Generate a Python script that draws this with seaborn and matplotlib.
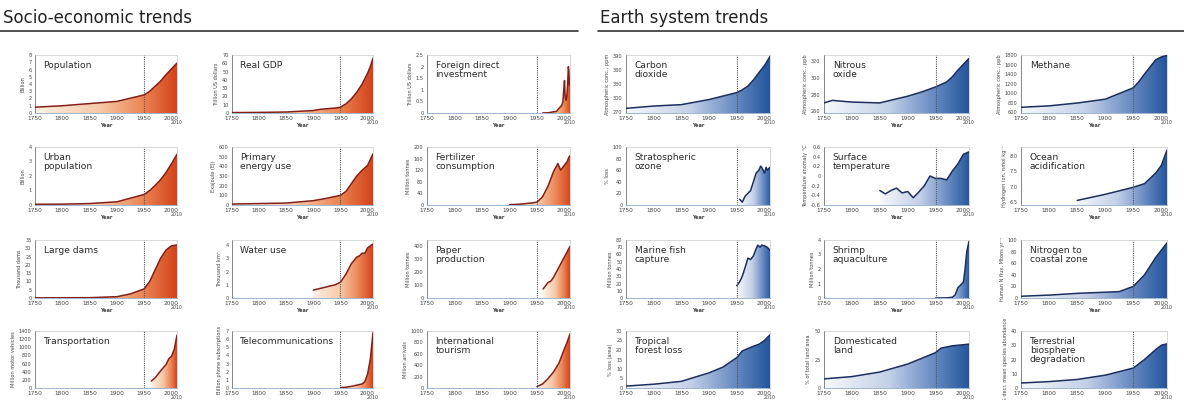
import numpy as np
import pandas as pd
import matplotlib.pyplot as plt
import seaborn as sns
from matplotlib.colors import LinearSegmentedColormap
from matplotlib.patches import Polygon

sns.set_style("white")
plt.rcParams["font.family"] = ["DejaVu Sans"]

# ---- data ----
pop_years = [1750, 1800, 1850, 1900, 1950, 1960, 1970, 1980, 1990, 2000, 2010]
pop_vals = [0.8, 1.0, 1.3, 1.6, 2.5, 3.0, 3.7, 4.4, 5.3, 6.1, 6.9]

gdp_years = [1750, 1800, 1850, 1900, 1913, 1940, 1950, 1960, 1970, 1980, 1990, 2000, 2005, 2010]
gdp_vals = [0.5, 0.7, 1.2, 3.0, 4.5, 6.0, 7.0, 11, 17, 25, 35, 48, 56, 66]

fdi_years = [1960, 1970, 1980, 1985, 1990, 1995, 1997, 1999, 2000, 2001, 2002, 2003, 2004, 2005, 2006, 2007, 2008, 2009, 2010]
fdi_vals = [0.0, 0.01, 0.05, 0.06, 0.2, 0.33, 0.47, 1.1, 1.4, 0.8, 0.6, 0.55, 0.7, 0.95, 1.4, 2.0, 1.8, 1.2, 1.25]

urban_years = [1750, 1800, 1850, 1900, 1950, 1960, 1970, 1980, 1990, 2000, 2010]
urban_vals = [0.05, 0.06, 0.1, 0.22, 0.73, 1.0, 1.35, 1.75, 2.25, 2.85, 3.5]

energy_years = [1750, 1800, 1850, 1900, 1925, 1950, 1960, 1970, 1980, 1990, 2000, 2010]
energy_vals = [10, 15, 20, 45, 70, 100, 140, 220, 300, 360, 410, 530]

fert_years = [1900, 1920, 1940, 1950, 1960, 1970, 1980, 1988, 1993, 2000, 2005, 2008, 2010]
fert_vals = [1, 3, 7, 10, 28, 65, 115, 143, 120, 138, 150, 165, 170]

dams_years = [1750, 1850, 1900, 1925, 1950, 1960, 1970, 1980, 1990, 2000, 2010]
dams_vals = [0.1, 0.2, 0.8, 2.5, 5.5, 10, 17, 24, 29, 31.5, 32]

water_years = [1900, 1920, 1940, 1950, 1960, 1970, 1980, 1985, 1990, 1995, 2000, 2010]
water_vals = [0.6, 0.8, 1.0, 1.2, 1.8, 2.6, 3.1, 3.2, 3.4, 3.4, 3.8, 4.1]

paper_years = [1961, 1970, 1975, 1980, 1990, 2000, 2010]
paper_vals = [70, 120, 130, 160, 240, 320, 400]

transport_years = [1963, 1970, 1980, 1985, 1990, 1995, 2000, 2005, 2010]
transport_vals = [170, 250, 420, 500, 580, 720, 780, 950, 1300]

telecom_years = [1950, 1960, 1970, 1980, 1990, 1995, 2000, 2005, 2010]
telecom_vals = [0.05, 0.1, 0.2, 0.35, 0.5, 0.8, 1.7, 3.5, 6.8]

tourism_years = [1950, 1960, 1970, 1980, 1990, 2000, 2005, 2010]
tourism_vals = [25, 70, 165, 280, 440, 690, 810, 950]

co2_years = [1750, 1800, 1850, 1900, 1950, 1960, 1970, 1980, 1990, 2000, 2010]
co2_vals = [277, 282, 285, 296, 311, 317, 325, 338, 354, 369, 389]

n2o_years = [1750, 1765, 1800, 1850, 1900, 1925, 1950, 1970, 1980, 1990, 2000, 2010]
n2o_vals = [270, 273, 271, 270, 278, 283, 289, 295, 301, 309, 316, 323]

ch4_years = [1750, 1800, 1850, 1900, 1950, 1960, 1970, 1980, 1990, 2000, 2010]
ch4_vals = [700, 730, 790, 870, 1110, 1240, 1400, 1550, 1700, 1760, 1790]

ozone_years = [1955, 1960, 1965, 1970, 1975, 1980, 1985, 1990, 1993, 1995, 2000, 2003, 2005, 2010]
ozone_vals = [10, 5, 15, 20, 25, 40, 55, 60, 67, 65, 55, 65, 60, 65]

temp_years = [1850, 1860, 1870, 1880, 1890, 1900, 1910, 1920, 1930, 1940, 1950, 1960, 1970, 1980, 1990, 2000, 2010]
temp_vals = [-0.3, -0.37, -0.3, -0.25, -0.35, -0.32, -0.45, -0.33, -0.2, 0.0, -0.05, -0.05, -0.08, 0.1, 0.25, 0.45, 0.5]

ocean_years = [1850, 1900, 1950, 1970, 1990, 2000, 2010]
ocean_vals = [6.55, 6.75, 6.98, 7.1, 7.45, 7.7, 8.2]

fish_years = [1950, 1955, 1960, 1965, 1970, 1975, 1980, 1985, 1988, 1992, 1995, 2000, 2005, 2010]
fish_vals = [17, 22, 30, 42, 55, 53, 58, 68, 73, 70, 73, 72, 70, 66]

shrimp_years = [1950, 1970, 1980, 1985, 1990, 1995, 2000, 2003, 2006, 2010]
shrimp_vals = [0.0, 0.01, 0.05, 0.2, 0.7, 0.9, 1.1, 2.0, 3.2, 3.9]

nitro_years = [1750, 1800, 1850, 1900, 1925, 1950, 1970, 1990, 2010]
nitro_vals = [3, 5, 8, 10, 11, 20, 40, 70, 95]

forest_years = [1750, 1800, 1850, 1900, 1925, 1950, 1960, 1980, 1990, 2000, 2010]
forest_vals = [1, 2, 3.5, 8, 11, 16, 19.5, 22, 23, 25, 28]

land_years = [1750, 1800, 1850, 1900, 1950, 1960, 1980, 2000, 2010]
land_vals = [8, 10, 14, 21, 31, 35, 37, 38, 38.5]

bio_years = [1750, 1800, 1850, 1900, 1950, 1960, 1970, 1990, 2000, 2010]
bio_vals = [3.5, 4.5, 6, 9, 14, 17, 20, 27, 30, 31]

socio = [
    ("Population", "Billion", pop_years, pop_vals, (0, 8), list(range(0, 9))),
    ("Real GDP", "Trillion US dollars", gdp_years, gdp_vals, (0, 70), list(range(0, 71, 10))),
    ("Foreign direct\ninvestment", "Trillion US dollars", fdi_years, fdi_vals, (0, 2.5), [0, 0.5, 1, 1.5, 2, 2.5]),
    ("Urban\npopulation", "Billion", urban_years, urban_vals, (0, 4), list(range(0, 5))),
    ("Primary\nenergy use", "Exajoule (EJ)", energy_years, energy_vals, (0, 600), list(range(0, 601, 100))),
    ("Fertilizer\nconsumption", "Million tonnes", fert_years, fert_vals, (0, 200), list(range(0, 201, 40))),
    ("Large dams", "Thousand dams", dams_years, dams_vals, (0, 35), list(range(0, 36, 5))),
    ("Water use", "Thousand km\u00b3", water_years, water_vals, (0, 4.4), list(range(0, 5))),
    ("Paper\nproduction", "Million tonnes", paper_years, paper_vals, (0, 450), list(range(0, 401, 100))),
    ("Transportation", "Million motor vehicles", transport_years, transport_vals, (0, 1400), list(range(0, 1401, 200))),
    ("Telecommunications", "Billion phone subscriptions", telecom_years, telecom_vals, (0, 7), list(range(0, 8))),
    ("International\ntourism", "Million arrivals", tourism_years, tourism_vals, (0, 1000), list(range(0, 1001, 200))),
]

earth = [
    ("Carbon\ndioxide", "Atmospheric conc., ppm", co2_years, co2_vals, (267, 392), list(range(270, 391, 30))),
    ("Nitrous\noxide", "Atmospheric conc., ppb", n2o_years, n2o_vals, (258, 327), [260, 280, 300, 320]),
    ("Methane", "Atmospheric conc., ppb", ch4_years, ch4_vals, (580, 1800), list(range(600, 1801, 200))),
    ("Stratospheric\nozone", "% loss", ozone_years, ozone_vals, (0, 100), list(range(0, 101, 20))),
    ("Surface\ntemperature", "Temperature anomaly \u00b0C", temp_years, temp_vals, (-0.6, 0.6), [-0.6, -0.4, -0.2, 0, 0.2, 0.4, 0.6]),
    ("Ocean\nacidification", "Hydrogen ion, nmol kg\u207b\u00b9", ocean_years, ocean_vals, (6.4, 8.3), [6.5, 7.0, 7.5, 8.0]),
    ("Marine fish\ncapture", "Million tonnes", fish_years, fish_vals, (0, 80), list(range(0, 81, 10))),
    ("Shrimp\naquaculture", "Million tonnes", shrimp_years, shrimp_vals, (0, 4), list(range(0, 5))),
    ("Nitrogen to\ncoastal zone", "Human N flux, Mtons yr\u207b\u00b9", nitro_years, nitro_vals, (0, 100), list(range(0, 101, 20))),
    ("Tropical\nforest loss", "% loss (area)", forest_years, forest_vals, (0, 30), list(range(0, 31, 5))),
    ("Domesticated\nland", "% of total land area", land_years, land_vals, (0, 50), [0, 25, 50]),
    ("Terrestrial\nbiosphere\ndegradation", "% decr. mean species abundance", bio_years, bio_vals, (0, 40), list(range(0, 41, 10))),
]

orange_cmap = LinearSegmentedColormap.from_list(
    "orng", [(0, "#fdf0e6"), (0.45, "#f7c9aa"), (0.75, "#ec8857"), (1, "#d4431a")])
blue_cmap = LinearSegmentedColormap.from_list(
    "blu", [(0, "#f6f8fc"), (0.45, "#c2d0e7"), (0.75, "#6a8cc3"), (1, "#23569c")])

W, H = 1184, 400
fig = plt.figure(figsize=(W / 100, H / 100), dpi=100)

left_cols = [(35, 177), (232, 373), (427, 570)]
right_cols = [(626, 770), (824, 969), (1021, 1167)]
rows = [(55, 113), (147, 205), (240, 298), (331, 388)]


def fmt(v):
    if float(v).is_integer():
        return str(int(v))
    return str(v)


def draw_panel(rect, spec, cmap, line_color, last_row=False, keep_decimals=False):
    title, ylabel, years, vals, ylim, yticks = spec
    x0, x1, y0, y1 = rect
    ax = fig.add_axes([x0 / W, 1 - y1 / H, (x1 - x0) / W, (y1 - y0) / H])
    base = ylim[0]
    # gradient fill under the curve, clipped to the area polygon
    verts = np.column_stack([
        np.r_[years[0], years, years[-1]],
        np.r_[base, vals, base],
    ])
    patch = Polygon(verts, closed=True, facecolor="none", edgecolor="none")
    ax.add_patch(patch)
    grad = np.linspace(0, 1, 256).reshape(1, -1)
    im = ax.imshow(grad, cmap=cmap, aspect="auto", origin="lower",
                   extent=[years[0], years[-1], base, max(vals)], zorder=1)
    im.set_clip_path(patch)
    sns.lineplot(x=years, y=vals, ax=ax, color=line_color, lw=1.1, zorder=3)
    ax.axvline(1950, color="#555555", ls=(0, (1, 1)), lw=0.8, zorder=4)
    ax.set_xlim(1750, 2010)
    ax.set_ylim(*ylim)
    ax.set_xticks(range(1750, 2001, 50))
    ax.set_xticklabels([str(y) for y in range(1750, 2001, 50)], fontsize=4.2, color="#444444")
    ax.set_yticks(yticks)
    if keep_decimals:
        labels = [f"{t:.1f}" for t in yticks]
    else:
        labels = [fmt(t) for t in yticks]
    ax.set_yticklabels(labels, fontsize=3.6, color="#444444")
    ax.tick_params(axis="both", direction="out", length=1.5, width=0.4, pad=1, colors="#444444")
    if last_row:
        ax.set_xlabel("")
    else:
        ax.set_xlabel("Year", fontsize=3.6, fontweight="bold", color="#444444", labelpad=1)
    ax.set_ylabel(ylabel, fontsize=3.6, color="#444444", labelpad=2)
    for s in ["top", "right"]:
        ax.spines[s].set_color("#bbbbbb")
        ax.spines[s].set_linewidth(0.4)
    ax.spines["left"].set_color("#555555")
    ax.spines["left"].set_linewidth(0.5)
    ax.spines["bottom"].set_color("#8fa9c8")
    ax.spines["bottom"].set_linewidth(0.6)
    ax.annotate("2010", xy=(2010, 0), xycoords=("data", "axes fraction"),
                xytext=(0, -5.2), textcoords="offset points", ha="center", va="top",
                fontsize=3.4, color="#444444")
    ax.text(0.06, 0.89, title, transform=ax.transAxes, va="top", ha="left",
            fontsize=6.6, color="#2a2a2a", linespacing=0.95, zorder=5)
    return ax


for i, spec in enumerate(socio):
    r, c = divmod(i, 3)
    draw_panel((*left_cols[c], *rows[r]), spec, orange_cmap, "#84201a", last_row=(r == 3))

for i, spec in enumerate(earth):
    r, c = divmod(i, 3)
    draw_panel((*right_cols[c], *rows[r]), spec, blue_cmap, "#1d2f5c", last_row=(r == 3),
               keep_decimals=(spec[0] == "Ocean\nacidification"))

fig.text(3 / W, 1 - 18 / H, "Socio-economic trends", fontsize=12, color="#222222",
         ha="left", va="center")
fig.text(600 / W, 1 - 18 / H, "Earth system trends", fontsize=12, color="#222222",
         ha="left", va="center")
fig.add_artist(plt.Line2D([0, 578 / W], [1 - 31 / H] * 2, color="#333333", lw=1.2))
fig.add_artist(plt.Line2D([598 / W, 1], [1 - 31 / H] * 2, color="#333333", lw=1.2))

fig.savefig("out.png", dpi=100)
